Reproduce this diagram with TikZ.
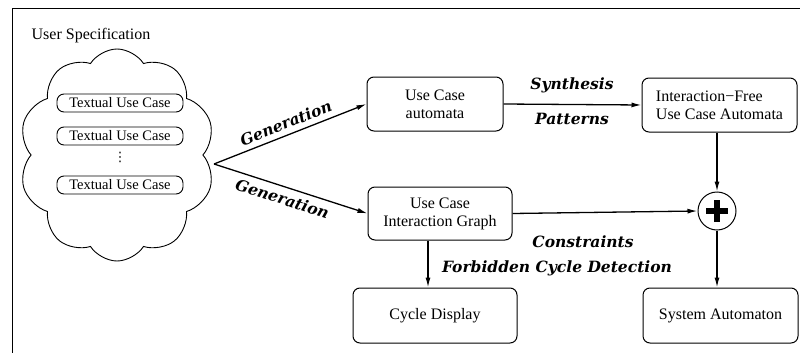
\documentclass[tikz,border=0pt]{standalone}
\usepackage{fontspec}
\setmainfont{Liberation Serif}
\newfontfamily\lblfont{DejaVu Serif}
\newfontfamily\symfont{DejaVu Sans}
\usetikzlibrary{arrows.meta}
\usetikzlibrary{shapes.symbols}

\tikzset{
  box/.style={draw, line width=1pt, rounded corners=7pt, inner sep=2pt,
    font=\fontsize{16}{18}\selectfont, align=center},
  usecase/.style={draw, line width=0.9pt, rounded corners=7pt, inner sep=0pt,
    minimum width=126pt, minimum height=18pt, font=\fontsize{14.5}{16}\selectfont},
  arr/.style={line width=1.3pt, -{Latex[length=10pt,width=5pt]}},
  lbl/.style={font=\fontsize{15.5}{17}\lblfont\bfseries\itshape}
}

\begin{document}
\begin{tikzpicture}[x=1pt,y=-1pt]
\useasboundingbox (0,0) rectangle (800,353);

%================ FRAME ==================
\draw[line width=1pt] (12,353) -- (12,9) -- (800,9);
\node[font=\fontsize{16}{18}\selectfont] (title) at (91,36) {User Specification};

%================ USER SPECIFICATION CLOUD ==================
\node[cloud, draw, line width=0.9pt, cloud puffs=10, cloud puff arc=115,
  aspect=0.95, minimum width=196pt, minimum height=212pt] (spec) at (117,155) {};

\node[usecase] (uc1) at (120,103) {Textual Use Case};
\node[usecase] (uc2) at (120,136) {Textual Use Case};
\node[inner sep=0pt, font=\fontsize{13}{13}\symfont] (dots) at (120,157) {⋮};
\node[usecase] (uc3) at (120,185) {Textual Use Case};

\coordinate (gen) at (214,164);

%================ BOXES ==================
\node[box, minimum width=136pt, minimum height=54pt] (ucauto) at (435,104) {Use Case\\automata};
\node[box, minimum width=155pt, minimum height=54pt, align=left] (ifree) at (719.5,105)
  {Interaction\textminus Free\\Use Case Automata};
\node[box, minimum width=144pt, minimum height=53pt] (ucig) at (440,213.5) {Use Case\\Interaction Graph};
\node[box, minimum width=164pt, minimum height=55pt] (cycle) at (435,315.5) {Cycle Display};
\node[box, minimum width=155pt, minimum height=55pt] (sysauto) at (720.5,315.5) {System Automaton};

% plus (composition)
\node[circle, draw, line width=1pt, minimum size=38pt, inner sep=0pt] (plus) at (717,211) {};
\draw[line width=5.5pt] ([xshift=-11pt]plus.center) -- ([xshift=11pt]plus.center);
\draw[line width=5.5pt] ([yshift=-11pt]plus.center) -- ([yshift=11pt]plus.center);

%================ ARROWS ==================
\draw[arr] (gen) -- (ucauto.west)
  node[lbl, sloped, above=2pt, pos=0.5] {Generation};
\draw[arr] (gen) -- (ucig.west)
  node[lbl, sloped, below=2pt, pos=0.47] {Generation};

\draw[arr] (ucauto.east) -- (ifree.west);
\node[lbl] (synth) at (572,85) {Synthesis};
\node[lbl] (pattern) at (572,119) {Patterns};

\draw[arr] (ifree.south -| plus) -- (plus.north);
\draw[arr] (ucig.east) -- (plus.west);
\draw[arr] (plus.south) -- (sysauto.north -| plus);
\draw[arr] ([xshift=-12pt]ucig.south) -- ([xshift=-7pt]cycle.north);

\node[lbl] (constr) at (583,242) {Constraints};
\node[lbl] (forbid) at (557,268) {Forbidden Cycle Detection};

\end{tikzpicture}
\end{document}
